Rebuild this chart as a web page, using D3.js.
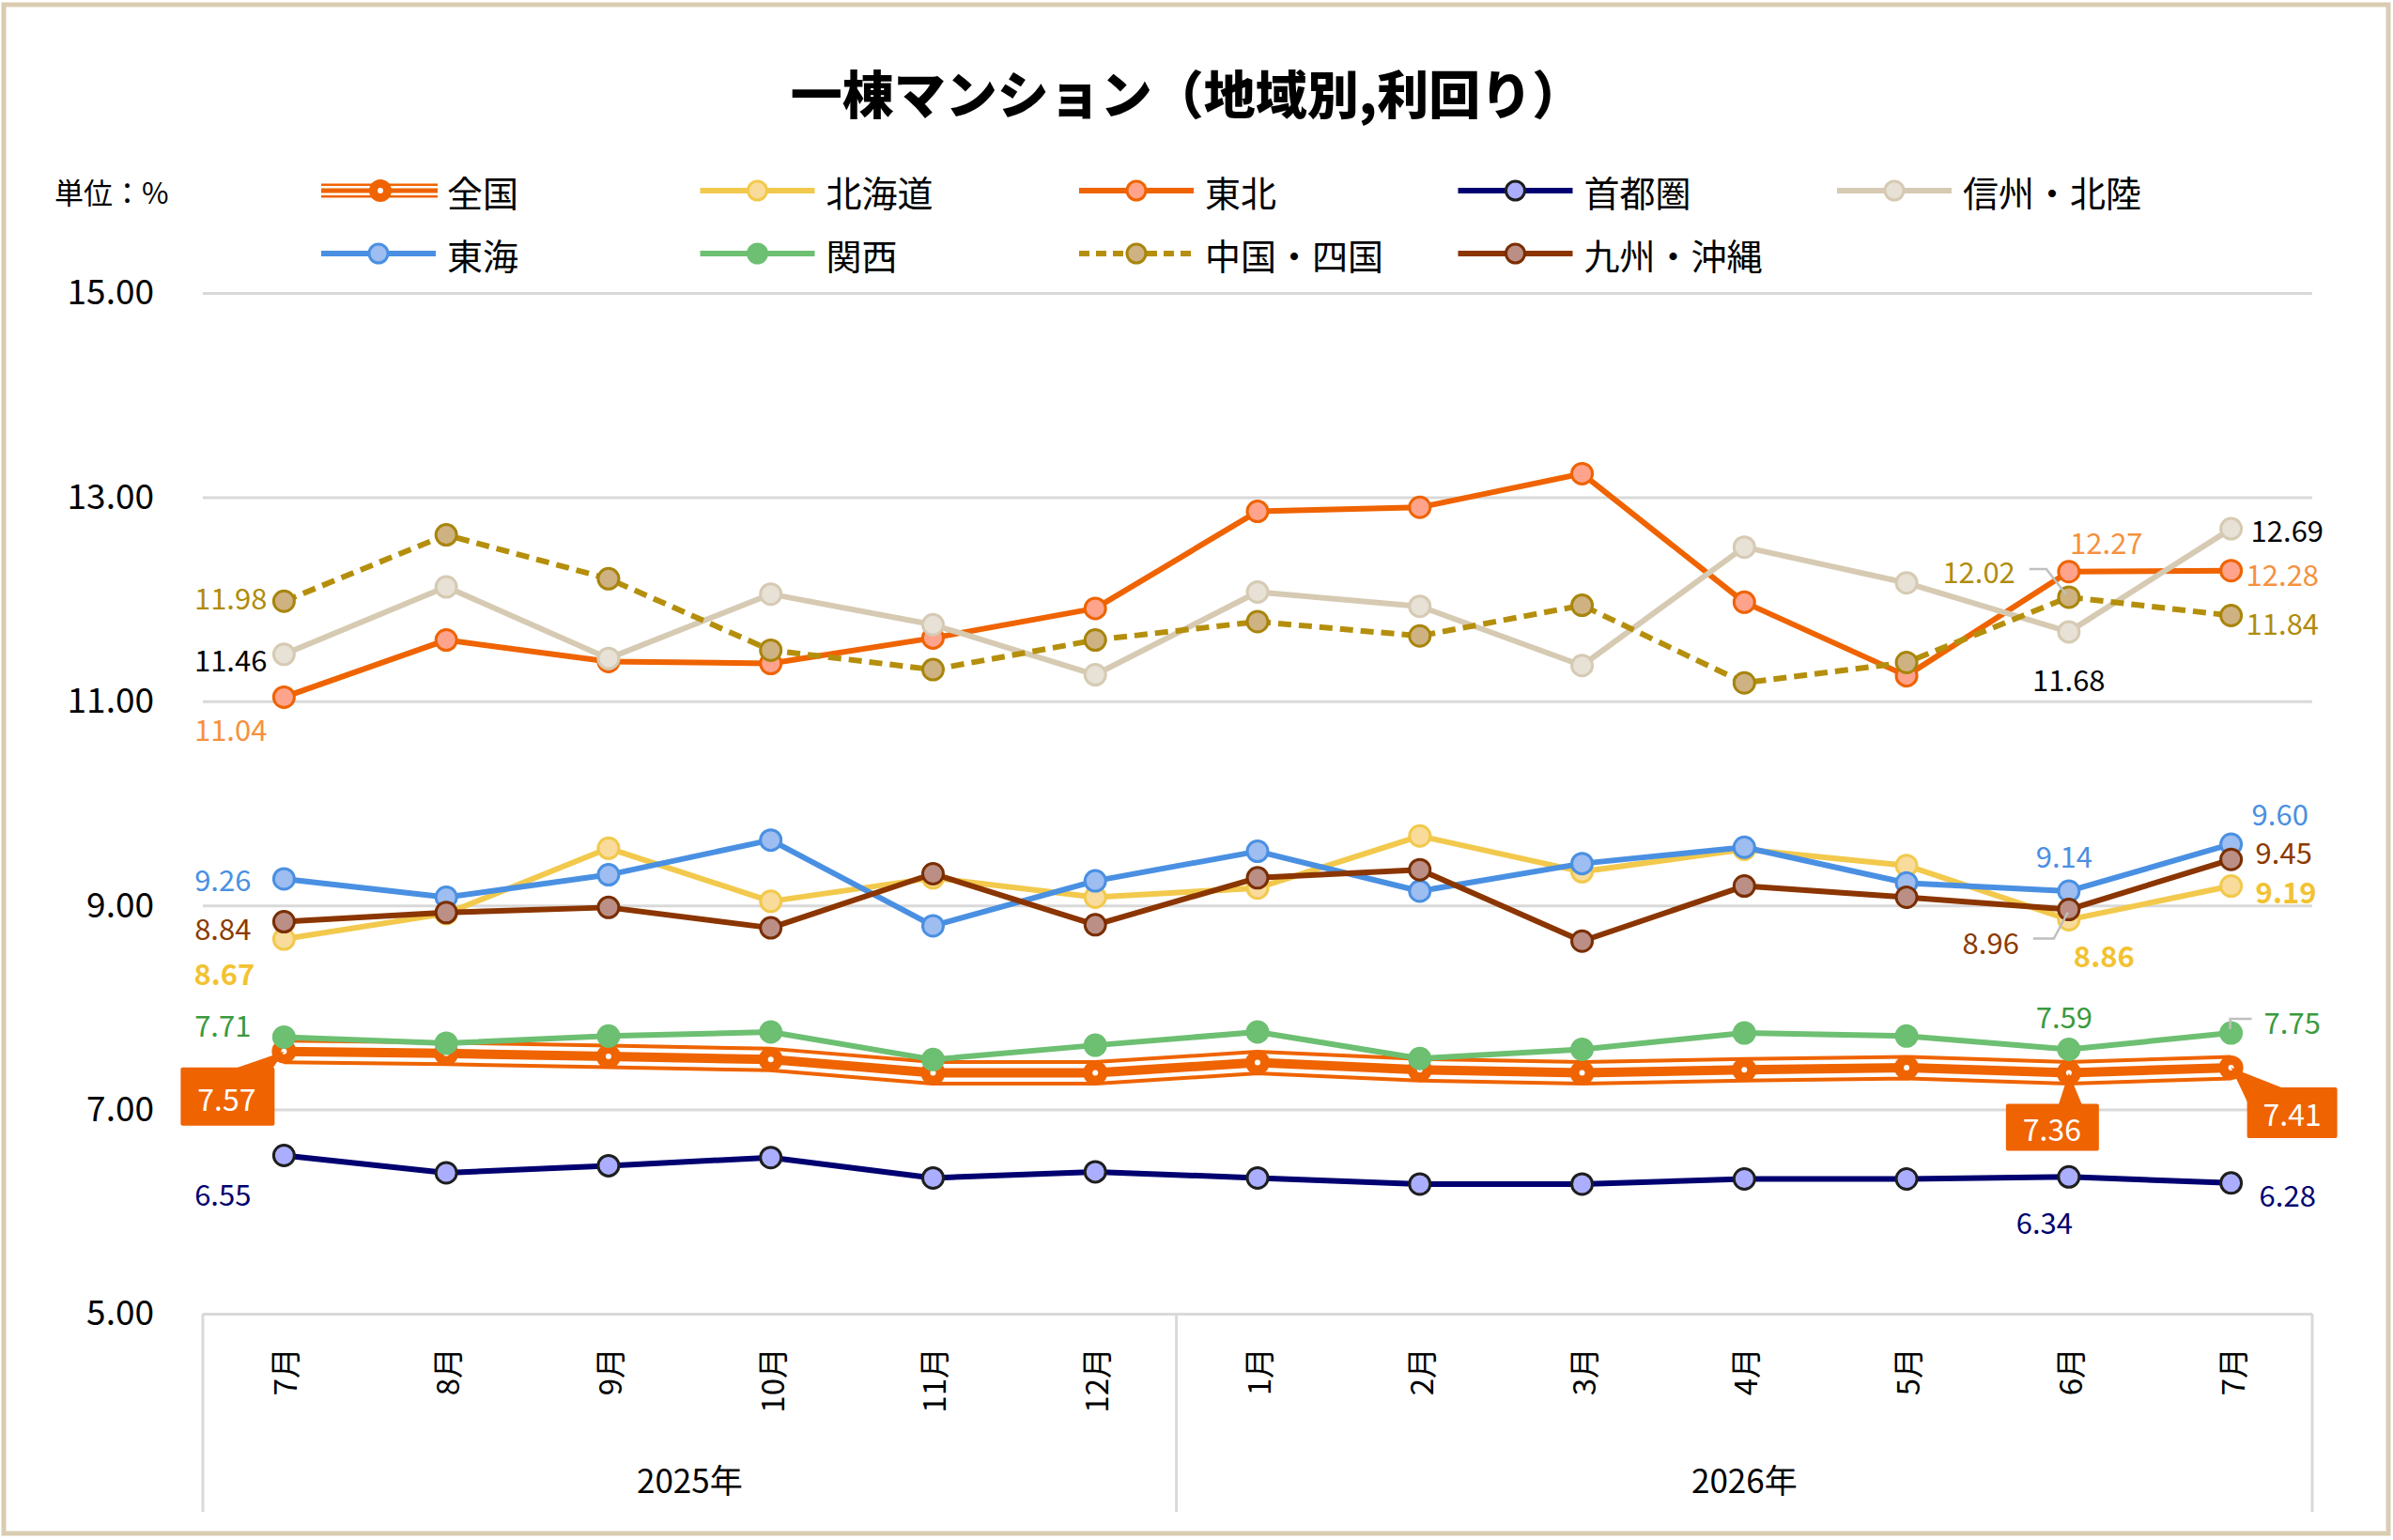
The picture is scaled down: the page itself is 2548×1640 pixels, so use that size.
<!DOCTYPE html>
<html><head><meta charset="utf-8">
<script src="https://cdn.jsdelivr.net/npm/d3@7"></script>
<style>
html,body{margin:0;padding:0;background:#fff;}
svg{display:block;font-family:"Noto Sans CJK JP","Noto Sans",sans-serif;}
</style></head><body>
<svg id="chart" width="2548" height="1640"></svg>
<script>
// ---------------- data ----------------
const chartTitle = "一棟マンション（地域別,利回り）";
const unitLabel = "単位：%";
const months = ["7月","8月","9月","10月","11月","12月","1月","2月","3月","4月","5月","6月","7月"];
const yearLabels = ["2025年","2026年"];
const yearMonthCounts = [6, 7];
const yTicks = [5, 7, 9, 11, 13, 15];
const seriesNames = ["全国","北海道","東北","首都圏","信州・北陸","東海","関西","中国・四国","九州・沖縄"];
const zenkoku   = [7.57, 7.55, 7.52, 7.49, 7.36, 7.36, 7.46, 7.39, 7.36, 7.39, 7.41, 7.36, 7.41];
const hokkaido  = [8.67, 8.92, 9.56, 9.04, 9.27, 9.08, 9.17, 9.68, 9.33, 9.55, 9.39, 8.86, 9.19];
const tohoku    = [11.04, 11.60, 11.39, 11.37, 11.62, 11.91, 12.86, 12.90, 13.23, 11.97, 11.25, 12.27, 12.28];
const shutoken  = [6.55, 6.38, 6.45, 6.53, 6.33, 6.39, 6.33, 6.27, 6.27, 6.32, 6.32, 6.34, 6.28];
const shinshu   = [11.46, 12.12, 11.42, 12.05, 11.75, 11.26, 12.07, 11.93, 11.35, 12.51, 12.16, 11.68, 12.69];
const tokai     = [9.26, 9.08, 9.30, 9.64, 8.80, 9.24, 9.53, 9.14, 9.41, 9.57, 9.22, 9.14, 9.60];
const kansai    = [7.71, 7.65, 7.72, 7.76, 7.49, 7.63, 7.76, 7.50, 7.59, 7.75, 7.72, 7.59, 7.75];
const chugoku   = [11.98, 12.63, 12.20, 11.50, 11.31, 11.60, 11.78, 11.64, 11.94, 11.18, 11.38, 12.02, 11.84];
const kyushu    = [8.84, 8.93, 8.98, 8.78, 9.31, 8.81, 9.27, 9.35, 8.65, 9.19, 9.08, 8.96, 9.45];
const seriesValues = [zenkoku, hokkaido, tohoku, shutoken, shinshu, tokai, kansai, chugoku, kyushu];

// ---------------- styles ----------------
const styles = [
  {line:"#EF6300", fill:"#EF6300", stroke:"#EF6300", label:"#ffffff", compound:true},
  {line:"#F2C94C", fill:"#F9DC9B", stroke:"#F2C94C", label:"#F2C232", bold:true},
  {line:"#EF6300", fill:"#FFA38C", stroke:"#EF6300", label:"#F5913F"},
  {line:"#000070", fill:"#ABAEFF", stroke:"#1E1E1E", label:"#000070"},
  {line:"#D6CAB3", fill:"#E7E1D6", stroke:"#D6CAB3", label:"#000000"},
  {line:"#4A90E2", fill:"#9EBDF0", stroke:"#4A90E2", label:"#4A90E2"},
  {line:"#6DBF72", fill:"#6DBF72", stroke:"#6DBF72", label:"#3A9A3E"},
  {line:"#B58F0C", fill:"#CFB282", stroke:"#A8850C", label:"#B08C0C", dash:"14,8"},
  {line:"#8B3500", fill:"#BB8F86", stroke:"#7A2E00", label:"#8B3A00"}
];

// label placements (offsets in px relative to the point)
const labelPlacements = [
  {s:7,i:0,dx:-18,dy:-5,a:"end"},
  {s:4,i:0,dx:-18,dy:5,a:"end"},
  {s:2,i:0,dx:-18,dy:33,a:"end"},
  {s:5,i:0,dx:-35,dy:0,a:"end"},
  {s:8,i:0,dx:-35,dy:6,a:"end"},
  {s:1,i:0,dx:-31,dy:35,a:"end"},
  {s:6,i:0,dx:-35,dy:-14,a:"end"},
  {s:3,i:0,dx:-35,dy:40,a:"end"},
  {s:4,i:12,dx:21,dy:0,a:"start"},
  {s:2,i:12,dx:16,dy:3,a:"start"},
  {s:7,i:12,dx:16,dy:7,a:"start"},
  {s:5,i:12,dx:22,dy:-33,a:"start"},
  {s:8,i:12,dx:26,dy:-9,a:"start"},
  {s:1,i:12,dx:26,dy:5,a:"start"},
  {s:6,i:12,dx:35,dy:-13,a:"start", leader:[[-1,-4],[-1,-15],[22,-15]]},
  {s:3,i:12,dx:30,dy:12,a:"start"},
  {s:2,i:11,dx:40,dy:-32,a:"middle"},
  {s:7,i:11,dx:-57,dy:-28,a:"end", leader:[[-42,-30],[-24,-30],[-3,-3]]},
  {s:4,i:11,dx:0,dy:50,a:"middle"},
  {s:5,i:11,dx:-5,dy:-38,a:"middle"},
  {s:8,i:11,dx:-53,dy:34,a:"end", leader:[[-38,31],[-16,31],[-1,3]]},
  {s:1,i:11,dx:5,dy:37,a:"start"},
  {s:6,i:11,dx:-5,dy:-36,a:"middle"},
  {s:3,i:11,dx:-26,dy:47,a:"middle"}
];
const callouts = [
  {i:0,  box:[-110,17,100,62], wedge:[[-52,18],[0,0],[-12,18]], text:[-61,49]},
  {i:11, box:[-67,33,99,50],   wedge:[[-11,34],[0,0],[14,34]],  text:[-18,59]},
  {i:12, box:[17,21,96,54],    wedge:[[18,38],[0,0],[56,22]],   text:[65,48]}
];

// ---------------- layout ----------------
const svg = d3.select("#chart");
const W = 2548, H = 1640;
const L = 216, R = 2462, T = 312, B = 1399;

svg.append("rect").attr("x",4).attr("y",5).attr("width",W-9).attr("height",H-12)
  .attr("fill","#fff").attr("stroke","#D9CCB2").attr("stroke-width",5);

const x = d3.scaleBand().domain(d3.range(months.length)).range([L, R]);
const cx = i => x(i) + x.bandwidth()/2;
const y = d3.scaleLinear().domain([5, 15]).range([B, T]);

// title
svg.append("text").attr("x",1264).attr("y",97).attr("text-anchor","middle")
  .attr("dominant-baseline","central").attr("font-size",55).attr("font-weight",900)
  .attr("fill","#000").text(chartTitle);
svg.append("text").attr("x",58).attr("y",203).attr("dominant-baseline","central")
  .attr("font-size",31).attr("fill","#000").text(unitLabel);

// y axis + gridlines
const yAxis = svg.append("g").attr("transform",`translate(${L},0)`)
  .call(d3.axisLeft(y).tickValues(yTicks).tickFormat(d3.format(".2f"))
    .tickSizeInner(-(R-L)).tickSizeOuter(0).tickPadding(52));
yAxis.select(".domain").remove();
yAxis.selectAll(".tick line").attr("stroke","#D9D9D9").attr("stroke-width",3);
yAxis.selectAll(".tick text").attr("font-size",37).attr("fill","#000")
  .attr("font-family",'"Noto Sans CJK JP","Noto Sans",sans-serif');

// x axis
const xAxis = svg.append("g").attr("transform",`translate(0,${B})`)
  .call(d3.axisBottom(x).tickFormat(i => months[i]).tickSize(0));
xAxis.select(".domain").remove();
xAxis.selectAll(".tick text")
  .attr("transform","rotate(-90)").attr("text-anchor","end")
  .attr("x",-36).attr("y",0).attr("dy",null).attr("dominant-baseline","central")
  .attr("font-size",33).attr("fill","#000")
  .attr("font-family",'"Noto Sans CJK JP","Noto Sans",sans-serif');

// year groups
let startIdx = 0;
const bounds = [L];
yearMonthCounts.forEach(c => { startIdx += c; bounds.push(startIdx < months.length ? x(startIdx) : R); });
svg.append("g").selectAll("line").data(bounds).join("line")
  .attr("x1",d=>d).attr("x2",d=>d).attr("y1",B).attr("y2",1610)
  .attr("stroke","#D9D9D9").attr("stroke-width",3);
svg.append("g").selectAll("text").data(yearLabels).join("text")
  .attr("x",(d,k)=>(bounds[k]+bounds[k+1])/2).attr("y",1574)
  .attr("text-anchor","middle").attr("dominant-baseline","central")
  .attr("font-size",35).attr("fill","#000").text(d=>d);

// series
const line = d3.line().x((d,i)=>cx(i)).y(d=>y(d));
const gSeries = svg.append("g");
seriesValues.forEach((vals, s) => {
  const st = styles[s];
  const g = gSeries.append("g");
  if (st.compound) {
    [[st.line,27],["#fff",19],[st.line,10]].forEach(([c,w]) => {
      g.append("path").datum(vals).attr("d",line).attr("fill","none")
        .attr("stroke",c).attr("stroke-width",w).attr("stroke-linejoin","round");
    });
    g.selectAll("circle.m").data(vals).join("circle").attr("class","m")
      .attr("cx",(d,i)=>cx(i)).attr("cy",d=>y(d)).attr("r",13).attr("fill",st.fill);
    g.selectAll("circle.d").data(vals).join("circle").attr("class","d")
      .attr("cx",(d,i)=>cx(i)).attr("cy",d=>y(d)).attr("r",3).attr("fill","#fff");
  } else {
    g.append("path").datum(vals).attr("d",line).attr("fill","none")
      .attr("stroke",st.line).attr("stroke-width",6).attr("stroke-linejoin","round")
      .attr("stroke-dasharray",st.dash || null);
    g.selectAll("circle").data(vals).join("circle")
      .attr("cx",(d,i)=>cx(i)).attr("cy",d=>y(d)).attr("r",11)
      .attr("fill",st.fill).attr("stroke",st.stroke).attr("stroke-width",3);
  }
});

// data labels
const gLab = svg.append("g");
labelPlacements.forEach(p => {
  const v = seriesValues[p.s][p.i];
  const px = cx(p.i), py = y(v);
  if (p.leader) {
    gLab.append("polyline").attr("points", p.leader.map(q=>[px+q[0],py+q[1]].join(",")).join(" "))
      .attr("fill","none").attr("stroke","#BFBFBF").attr("stroke-width",2.5);
  }
  gLab.append("text").attr("x",px+p.dx).attr("y",py+p.dy)
    .attr("text-anchor",p.a).attr("dominant-baseline","central")
    .attr("font-size",31).attr("font-weight",styles[p.s].bold?700:400)
    .attr("fill",styles[p.s].label).text(d3.format(".2f")(v));
});
callouts.forEach(c => {
  const v = zenkoku[c.i];
  const px = cx(c.i), py = y(v);
  gLab.append("polygon").attr("points", c.wedge.map(q=>[px+q[0],py+q[1]].join(",")).join(" "))
    .attr("fill",styles[0].line);
  gLab.append("rect").attr("x",px+c.box[0]).attr("y",py+c.box[1])
    .attr("width",c.box[2]).attr("height",c.box[3]).attr("rx",2).attr("fill",styles[0].line);
  gLab.append("text").attr("x",px+c.text[0]).attr("y",py+c.text[1])
    .attr("text-anchor","middle").attr("dominant-baseline","central")
    .attr("font-size",32).attr("fill","#fff").text(d3.format(".2f")(v));
});

// legend
const gLeg = svg.append("g");
seriesNames.forEach((name, s) => {
  const row = s < 5 ? 0 : 1, col = s < 5 ? s : s - 5;
  const x0 = 342 + col * 403.5, yy = row === 0 ? 203 : 270;
  const st = styles[s];
  const g = gLeg.append("g");
  if (st.compound) {
    [[st.line,15],["#fff",10],[st.line,5]].forEach(([c,w]) => {
      g.append("line").attr("x1",x0).attr("x2",x0+124).attr("y1",yy).attr("y2",yy)
        .attr("stroke",c).attr("stroke-width",w);
    });
    g.append("circle").attr("cx",x0+63).attr("cy",yy).attr("r",12).attr("fill",st.fill);
    g.append("circle").attr("cx",x0+63).attr("cy",yy).attr("r",3).attr("fill","#fff");
  } else {
    g.append("line").attr("x1",x0).attr("x2",x0+122).attr("y1",yy).attr("y2",yy)
      .attr("stroke",st.line).attr("stroke-width",6).attr("stroke-dasharray",st.dash?"11,7":null);
    g.append("circle").attr("cx",x0+61).attr("cy",yy).attr("r",10)
      .attr("fill",st.fill).attr("stroke",st.stroke).attr("stroke-width",3);
  }
  g.append("text").attr("x",x0+134).attr("y",yy).attr("dominant-baseline","central")
    .attr("font-size",38).attr("fill","#000").text(name);
});
</script></body></html>
